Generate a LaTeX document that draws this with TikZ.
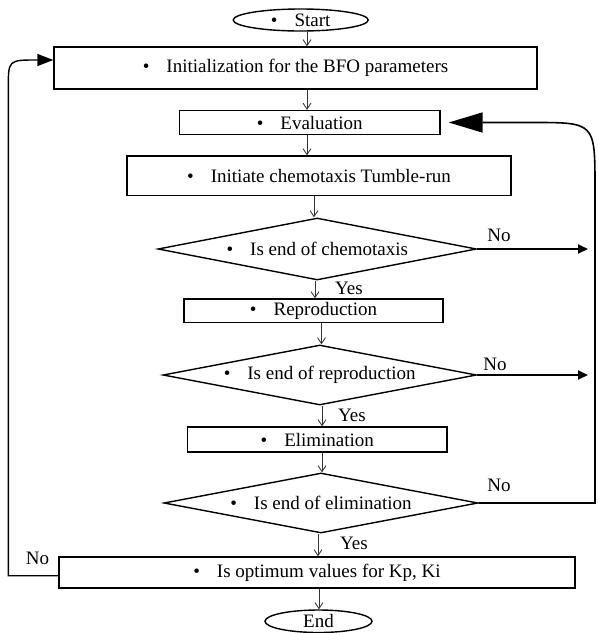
\documentclass[tikz,border=0pt]{standalone}
\usepackage{fontspec}
\setmainfont{Liberation Serif}
\usetikzlibrary{shapes.geometric,arrows.meta}
\newcommand\bulitem{\textbullet\hspace{17pt}}
\begin{document}
\begin{tikzpicture}[x=1pt,y=-1pt,
 every node/.style={font=\fontsize{19}{22}\selectfont, text=black},
 box/.style={draw=black, line width=1.4pt, rectangle, inner sep=0pt},
 dec/.style={draw=black, line width=1.4pt, diamond, inner sep=0pt, shape aspect=5.2},
 term/.style={draw=black, line width=1.4pt, ellipse, inner sep=0pt},
 arr/.style={draw=black!80, line width=0.8pt, -{Straight Barb[length=6pt,width=8pt]}},
 noarr/.style={draw=black, line width=2pt, -{Triangle[length=10pt,width=9pt]}},
 backline/.style={draw=black, line width=1.6pt},
 lbl/.style={inner sep=0pt}]
\useasboundingbox (0,0) rectangle (598,633);

\node[term, minimum width=135pt, minimum height=22pt] (start) at (300.7,20) {\bulitem Start};
\node[box, minimum width=483pt, minimum height=42pt] (init) at (295.5,68) {\bulitem Initialization for the BFO parameters};
\node[box, minimum width=260.5pt, minimum height=24pt] (eval) at (309.75,122.5) {\bulitem Evaluation};
\node[box, minimum width=384pt, minimum height=39.5pt] (tumble) at (319,175.75) {\bulitem Initiate chemotaxis Tumble-run};
\node[dec, minimum width=318.5pt, minimum height=62pt] (d1) at (317.25,249) {\bulitem Is end of chemotaxis};
\node[box, minimum width=259pt, minimum height=23.5pt] (repro) at (313.5,310.75) {\bulitem Reproduction};
\node[dec, minimum width=313.5pt, minimum height=60pt] (d2) at (319.75,375) {\bulitem Is end of reproduction};
\node[box, minimum width=259.4pt, minimum height=25pt] (elim) at (317.3,439.5) {\bulitem Elimination};
\node[dec, minimum width=314pt, minimum height=60pt] (d3) at (321,503) {\bulitem Is end of elimination};
\node[box, minimum width=516pt, minimum height=31pt] (opt) at (317,572.5) {\bulitem Is optimum values for Kp, Ki};
\node[term, minimum width=107pt, minimum height=22.5pt] (end) at (318.5,621.25) {End};

\coordinate (v307) at (307,0);
\coordinate (v314) at (314,0);
\coordinate (v315) at (315,0);
\coordinate (v321) at (321.5,0);
\coordinate (v322) at (322,0);
\coordinate (v318) at (318,0);
\coordinate (v319) at (319,0);

\draw[arr] (start.south -| v307) -- (init.north -| v307);
\draw[arr] (init.south -| v307) -- (eval.north -| v307);
\draw[arr] (eval.south -| v307) -- (tumble.north -| v307);
\draw[arr] (tumble.south -| v314) -- (d1.north -| v314);
\draw[arr] (d1.south -| v315) -- (repro.north -| v315);
\draw[arr] (repro.south -| v321) -- (d2.north -| v321);
\draw[arr] (d2.south -| v322) -- (elim.north -| v322);
\draw[arr] (elim.south -| v322) -- (d3.north -| v322);
\draw[arr] (d3.south -| v318) -- (opt.north -| v318);
\draw[arr] (opt.south -| v319) -- (end.north -| v319);

\coordinate (n1end) at (588,249);
\coordinate (n2end) at (588,375);
\draw[noarr] (d1.east) -- (n1end);
\draw[noarr] (d2.east) -- (n2end);

\coordinate (r1) at (595,503);
\coordinate (r2) at (595,188);
\coordinate (r3) at (533,122.5);
\draw[backline, -{Triangle[length=34pt,width=20pt]}] (d3.east) -- (r1) -- (r2) .. controls (595,122.5) .. (r3) -- ([xshift=8pt]eval.east);

\coordinate (l1) at (8.3,575.7);
\coordinate (l2) at (8.3,88);
\coordinate (l3) at (37,60);
\draw[backline, line width=1.4pt, -{Triangle[length=16pt,width=12pt]}] ([yshift=-3.2pt]opt.west) -- (l1) -- (l2) .. controls (8.3,60) .. (l3) -- ([yshift=8pt]init.west);

\node[lbl] (no1) at (499,235) {No};
\node[lbl] (no2) at (495,364) {No};
\node[lbl] (no3) at (499,485) {No};
\node[lbl] (no4) at (37.5,558) {No};
\node[lbl] (yes1) at (349,288) {Yes};
\node[lbl] (yes2) at (352,415) {Yes};
\node[lbl] (yes3) at (354,543) {Yes};
\end{tikzpicture}
\end{document}
